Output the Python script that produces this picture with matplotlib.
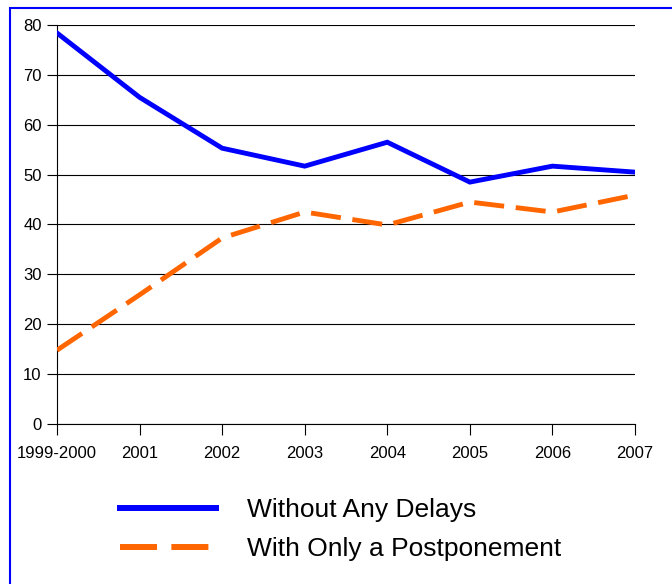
import matplotlib
matplotlib.use("Agg")
import matplotlib.pyplot as plt
from matplotlib.patches import Rectangle

years = ["1999-2000", "2001", "2002", "2003", "2004", "2005", "2006", "2007"]
no_delay = [78.4, 65.5, 55.3, 51.7, 56.5, 48.5, 51.7, 50.5]
postponed = [14.8, 25.9, 37.3, 42.5, 39.9, 44.5, 42.5, 45.9]

BLUE = "#0000ff"
ORANGE = "#ff6600"

plt.rcParams.update({
    "font.family": ["Liberation Sans", "DejaVu Sans"],
    "font.size": 12,
})

fig = plt.figure(figsize=(6.72, 5.84), dpi=100)
ax = fig.add_axes([57 / 672, 1 - 424 / 584, (635 - 57) / 672, (424 - 25) / 584])

# blue frame around the whole chart
fig.patches.append(Rectangle((10 / 672, -0.05), 1.0, 1 - 8 / 584 + 0.05,
                             transform=fig.transFigure, fill=False,
                             edgecolor=BLUE, linewidth=1.5))

x = list(range(len(years)))
ax.plot(x, no_delay, color=BLUE, lw=3.5, solid_joinstyle="miter",
        label="Without Any Delays", zorder=3)
ax.plot(x, postponed, color=ORANGE, lw=3.5, dashes=(6.2, 2.4),
        label="With Only a Postponement", zorder=3)

ax.set_xlim(0, len(years) - 1)
ax.set_ylim(0, 80)
ax.set_yticks(range(0, 81, 10))
ax.set_xticks(x)
ax.set_xticklabels(years)
ax.yaxis.grid(True, color="black", lw=0.8)
ax.set_axisbelow(True)
for s in ["top", "right"]:
    ax.spines[s].set_visible(False)
for s in ["left", "bottom"]:
    ax.spines[s].set_color("black")
    ax.spines[s].set_linewidth(0.8)
ax.tick_params(axis="x", length=8, width=0.8, pad=8, labelsize=12)
ax.tick_params(axis="y", length=7, width=0.8, pad=4, labelsize=12)

leg = ax.legend(loc="upper left", bbox_to_anchor=(96 / 672, 1 - 474 / 584),
                bbox_transform=fig.transFigure, frameon=False, fontsize=19,
                handlelength=3.64, handletextpad=1.2, labelspacing=0.58)
for h in leg.get_lines():
    h.set_linewidth(4.3)

fig.savefig("out.png", dpi=100, facecolor="white")
